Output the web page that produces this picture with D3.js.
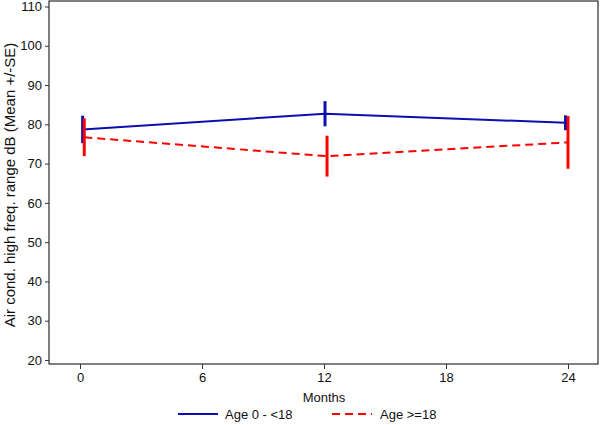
<!DOCTYPE html>
<html><head><meta charset="utf-8">
<script src="https://cdn.jsdelivr.net/npm/d3@7"></script>
<style>body{margin:0;background:#fff;} text{font-family:"Liberation Sans",Arial,sans-serif;}</style>
</head><body>
<svg id="c" width="600" height="425"></svg>
<script>
const seriesNames = ["Age 0 - <18", "Age >=18"];
const monthsBlue = [0.13, 12.05, 23.88];
const meanBlue = [78.7, 82.7, 80.4];
const seBlue = [3.5, 3.2, 1.9];
const monthsRed = [0.21, 12.15, 24.0];
const meanRed = [76.7, 71.9, 75.4];
const seRed = [4.8, 5.2, 6.7];
const xTicks = [0, 6, 12, 18, 24];
const yTicks = [20, 30, 40, 50, 60, 70, 80, 90, 100, 110];

const svg = d3.select("#c");
const L = 49, R = 598, T = 1, B = 364;
const x = d3.scaleLinear().domain([0, 24]).range([80, 568]);
const y = d3.scaleLinear().domain([20, 110]).range([360, 6.5]);

// frame
svg.append("rect").attr("x", L).attr("y", T).attr("width", R - L).attr("height", B - T)
  .attr("fill", "none").attr("stroke", "#000").attr("stroke-width", 1);

const yAxis = svg.append("g").attr("transform", `translate(${L},0)`)
  .call(d3.axisLeft(y).tickValues(yTicks).tickSize(4).tickPadding(3));
const xAxis = svg.append("g").attr("transform", `translate(0,${B})`)
  .call(d3.axisBottom(x).tickValues(xTicks).tickSize(5).tickPadding(4));
[yAxis, xAxis].forEach(a => {
  a.select(".domain").remove();
  a.selectAll("line").attr("stroke", "#333");
  a.selectAll("text").attr("font-size", 13).attr("fill", "#111")
    .attr("font-family", "Liberation Sans, Arial, sans-serif");
});

svg.append("text").attr("x", 324).attr("y", 402).attr("text-anchor", "middle")
  .attr("font-size", 13).attr("fill", "#111").text("Months");
svg.append("text").attr("transform", "translate(15,185) rotate(-90)")
  .attr("text-anchor", "middle").attr("font-size", 15).attr("fill", "#111")
  .text("Air cond. high freq. range dB (Mean +/-SE)");

const series = [
  {m: monthsBlue, v: meanBlue, se: seBlue, color: "#0a0fb0", dash: null},
  {m: monthsRed, v: meanRed, se: seRed, color: "#ff0000", dash: "8,5"}
];
const line = d3.line().x(d => x(d[0])).y(d => y(d[1]));
series.forEach(s => {
  const pts = s.m.map((m, i) => [m, s.v[i], s.se[i]]);
  svg.append("path").datum(pts).attr("d", line).attr("fill", "none")
    .attr("stroke", s.color).attr("stroke-width", 2)
    .attr("stroke-dasharray", s.dash);
  svg.selectAll(null).data(pts).enter().append("line")
    .attr("x1", d => x(d[0])).attr("x2", d => x(d[0]))
    .attr("y1", d => y(d[1] + d[2])).attr("y2", d => y(d[1] - d[2]))
    .attr("stroke", s.color).attr("stroke-width", 3);
});

// legend
const leg = [{x: 178, tx: 225, color: "#0a0fb0", dash: null, name: seriesNames[0]},
             {x: 332, tx: 380, color: "#ff0000", dash: "8,5", name: seriesNames[1]}];
leg.forEach(l => {
  svg.append("line").attr("x1", l.x).attr("x2", l.x + 40).attr("y1", 414).attr("y2", 414)
    .attr("stroke", l.color).attr("stroke-width", 2).attr("stroke-dasharray", l.dash);
  svg.append("text").attr("x", l.tx).attr("y", 419).attr("font-size", 13)
    .attr("fill", "#111").text(l.name);
});
</script>
</body></html>
